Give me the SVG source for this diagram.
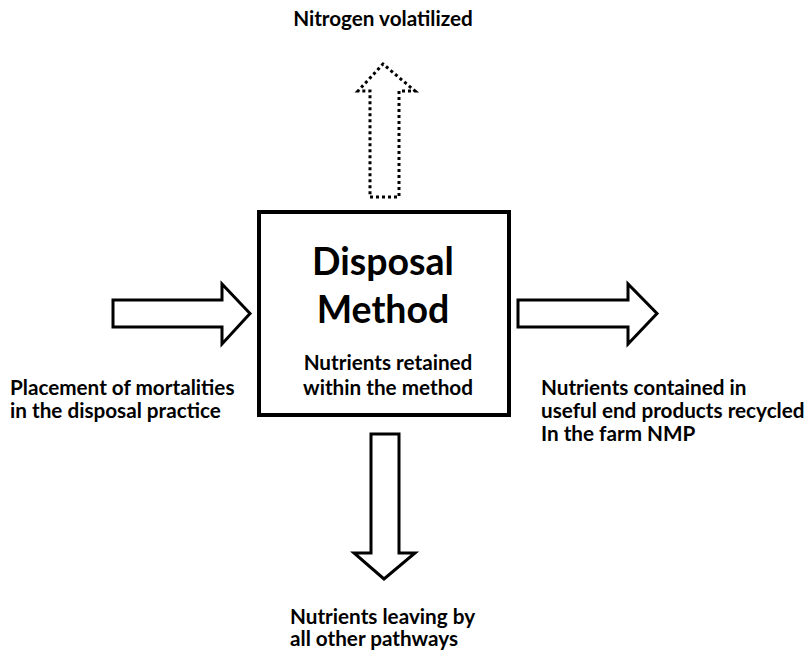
<svg xmlns="http://www.w3.org/2000/svg" width="809" height="652" viewBox="0 0 809 652">
<style>
text{font-family:Lato,"Liberation Sans",sans-serif;font-weight:bold;fill:#000}
.lbl{font-size:20.7px}
.big{font-size:37.5px}
.arrow{fill:#fff;stroke:#000;stroke-width:3;stroke-linejoin:miter}
.dotted{fill:#fff;stroke:#000;stroke-width:3;stroke-dasharray:3 3}
</style>
<rect width="809" height="652" fill="#fff"/>
<g id="connectors">
<polygon class="dotted" points="370,197 399,197 399,91 415,91 383,64 358,91 370,91"/>
<polygon class="arrow" points="113,300 222,300 222,284 250,313.5 222,344 222,327 113,327"/>
<polygon class="arrow" points="518,300 628,300 628,284 657,313.5 628,344 628,327 518,327"/>
<polygon class="arrow" points="371,434 399,434 399,553 415,553 384,579 354,553 371,553"/>
</g>
<g id="disposal-method">
<rect x="259" y="212" width="250" height="203" fill="#fff" stroke="#000" stroke-width="4"/>
<text class="big" x="383" y="275" text-anchor="middle">Disposal</text>
<text class="big" x="383" y="323" text-anchor="middle">Method</text>
<text class="lbl" x="388" y="370" text-anchor="middle">Nutrients retained</text>
<text class="lbl" x="388" y="395" text-anchor="middle">within the method</text>
</g>
<g id="nitrogen-volatilized">
<text class="lbl" x="383" y="26" text-anchor="middle">Nitrogen volatilized</text>
</g>
<g id="placement">
<text class="lbl" x="10" y="395">Placement of mortalities</text>
<text class="lbl" x="10" y="418">in the disposal practice</text>
</g>
<g id="end-products">
<text class="lbl" x="541" y="395">Nutrients contained in</text>
<text class="lbl" x="541" y="418">useful end products recycled</text>
<text class="lbl" x="541" y="441">In the farm NMP</text>
</g>
<g id="other-pathways">
<text class="lbl" x="290" y="624">Nutrients leaving by</text>
<text class="lbl" x="290" y="646">all other pathways</text>
</g>
</svg>
